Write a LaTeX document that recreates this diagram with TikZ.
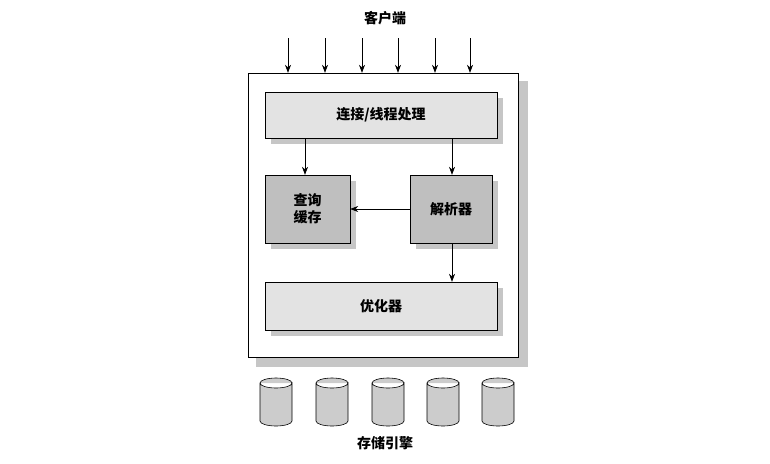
\documentclass[tikz,border=0pt]{standalone}
\usepackage{fontspec}
\newfontfamily\cjk{Noto Sans CJK SC}
\usetikzlibrary{arrows.meta}
\tikzset{
        % shaded boxes
        box_light/.style={draw=black, fill=gray!22, font=\cjk\bfseries\fontsize{14}{17}\selectfont, inner sep=0pt},
        box_dark/.style={draw=black, fill=gray!50, font=\cjk\bfseries\fontsize{14}{17}\selectfont, inner sep=0pt, align=center},
        shade_box/.style={fill=gray!45},
        label_text/.style={font=\cjk\bfseries\fontsize{14}{17}\selectfont},
        flow/.style={-{Stealth[length=8pt,width=6pt]}, semithick}
}
\begin{document}
\begin{tikzpicture}[x=1pt, y=-1pt]
    \useasboundingbox (0,0) rectangle (770,463);
    \node[label_text] (client) at (385,18) {客户端};
    % outer frame with shadow
    \fill[shade_box] (256,81) rectangle (528,367);
    \node[draw=black, fill=white, minimum width=270pt, minimum height=284pt, inner sep=0pt] (server) at (383,215) {};
    % inner boxes
    \fill[shade_box] (271,98) rectangle (503,144);
    \node[box_light, minimum width=232pt, minimum height=46pt] (conn) at (381,115) {连接/线程处理};
    \fill[shade_box] (271,181) rectangle (356,249);
    \node[box_dark, minimum width=85pt, minimum height=68pt] (cache) at (307.5,209) {查询\\缓存};
    \fill[shade_box] (416,181) rectangle (498,249);
    \node[box_dark, minimum width=82pt, minimum height=68pt] (parser) at (451,209) {解析器};
    \fill[shade_box] (271,288) rectangle (503,336);
    \node[box_light, minimum width=232pt, minimum height=48pt] (opt) at (381,306) {优化器};
    % client arrows
    \foreach \x [count=\i] in {288,325,362,398,435,470} {
        \coordinate (c\i) at (\x,38);
        \draw[flow] (c\i) -- (c\i |- server.north);
    }
    \draw[flow] (conn.south -| 305,0) -- (cache.north -| 305,0);
    \draw[flow] (conn.south -| 452,0) -- (parser.north -| 452,0);
    \draw[flow] (parser.west) -- (cache.east);
    \draw[flow] (parser.south -| 452,0) -- (opt.north -| 452,0);
    % storage engines
    \foreach \x in {276,332,388,443,498} {
        \filldraw[fill=gray!40, semithick] (\x-16,383) -- (\x-16,421)
            arc[start angle=180, end angle=360, x radius=16, y radius=-5]
            -- (\x+16,383) arc[start angle=0, end angle=360, x radius=16, y radius=5];
    }
    \node[label_text] (engine) at (385,443) {存储引擎};
\end{tikzpicture}
\end{document}
